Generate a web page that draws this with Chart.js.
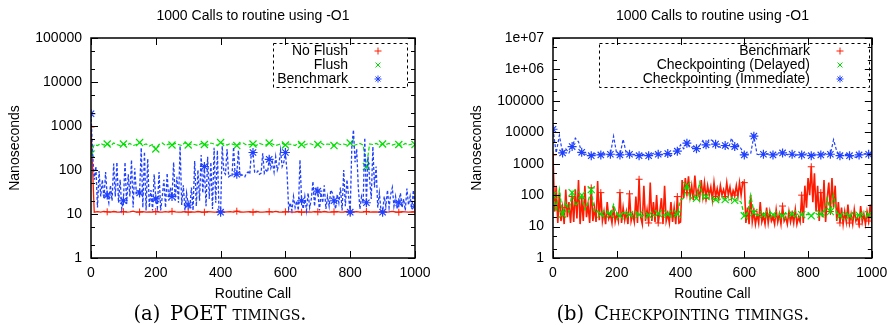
<!DOCTYPE html>
<html lang="en">
<head>
<meta charset="UTF-8" />
<title>1000 Calls to routine using -O1</title>
<script src="https://cdn.jsdelivr.net/npm/chart.js"></script>
<style>
  body { margin: 0; background: #fff; }
  #page { position: relative; width: 894px; height: 325px; overflow: hidden; background: #fff; }
  .panel { position: absolute; top: 0; width: 447px; height: 305px; }
  .caption {
    position: absolute;
    top: 302px;
    font-family: "DejaVu Serif", "Liberation Serif", serif;
    font-size: 19.5px;
    line-height: 24px;
    white-space: nowrap;
    transform: translateX(-50%);
    color: #000;
  }
  .sc { font-variant: small-caps; }
</style>
</head>
<body>
<div id="page">
  <div class="panel" style="left:0"><canvas id="poetChart" width="447" height="305"></canvas></div>
  <div class="panel" style="left:447px"><canvas id="ckptChart" width="447" height="305"></canvas></div>
  <div class="caption" style="left:220px">(a)&ensp;<span class="sc">POET timings.</span></div>
  <div class="caption" style="left:683px">(b)&ensp;<span class="sc">Checkpointing timings.</span></div>
</div>

<script>
  // routine call numbers (x values)
  const callsBy10 = Array.from({ length: 101 }, (_, i) => i * 10);
  const callsBy5 = Array.from({ length: 201 }, (_, i) => i * 5);

  const xTicks = [0, 200, 400, 600, 800, 1000];

  // ---- (a) POET timings ----
  const poetYTicks = [1, 10, 100, 1000, 10000, 100000];
  const poetYMinor = [2, 5, 20, 50, 200, 500, 2000, 5000, 20000, 50000];

  // every 10 calls
  const noFlush = [950, 11, 11.3, 11, 11.5, 11.2, 11, 11.4, 11.1, 11,
    11.3, 11, 11.2, 11.6, 11, 11.1, 11.3, 11, 11.2, 11,
    11.4, 11.1, 11, 11.3, 11, 11.5, 11.2, 11, 11.1, 11.3,
    11, 11.2, 11, 11.4, 11.1, 11, 11.3, 11.2, 11, 11.1,
    11.5, 11, 11.2, 11.3, 11, 11.6, 11.1, 11, 11.2, 11.3,
    11, 11.4, 11.1, 11, 11.2, 11.3, 11, 11.5, 11.1, 11,
    11.2, 11.3, 11, 11.1, 11.4, 11, 11.2, 11.1, 11, 11.3,
    11.2, 11, 11.4, 11.1, 11, 11.2, 11.3, 11, 11.1, 11.5,
    11, 11.2, 11.3, 11, 11.1, 11.4, 11, 11.2, 11.1, 11,
    11.3, 11, 11.2, 11.5, 11.1, 11, 11.3, 11.2, 11, 11.1,
    11.2];

  // every 10 calls
  const flush = [230, 380, 360, 400, 370, 390, 350, 410, 380, 360,
    390, 370, 400, 360, 380, 420, 370, 390, 350, 380,
    300, 380, 410, 360, 390, 370, 400, 380, 360, 420,
    370, 390, 380, 360, 400, 380, 370, 410, 390, 360,
    420, 390, 370, 400, 380, 360, 390, 410, 370, 380,
    390, 360, 400, 380, 370, 410, 390, 360, 380, 400,
    370, 390, 380, 360, 410, 380, 370, 400, 390, 360,
    380, 410, 370, 390, 380, 360, 400, 380, 390, 370,
    410, 360, 380, 400, 370, 120, 390, 380, 400, 370,
    390, 380, 400, 370, 390, 380, 360, 400, 370, 390,
    380];

  // every 5 calls
  const poetBenchmark = [1900, 240, 60, 120, 14, 95, 25, 60, 22, 90,
    27, 18, 45, 20, 140, 25, 150, 18, 60, 13,
    20, 150, 17, 80, 25, 170, 14, 110, 30, 35,
    30, 320, 14, 260, 12, 180, 14, 35, 12, 80,
    22, 14, 90, 12, 25, 60, 14, 85, 20, 40,
    25, 150, 20, 70, 18, 350, 16, 45, 12, 30,
    16, 14, 40, 12, 160, 15, 100, 20, 220, 30,
    120, 15, 200, 22, 150, 13, 320, 18, 280, 12,
    11, 350, 90, 80, 300, 70, 75, 70, 330, 75,
    80, 280, 72, 78, 75, 70, 85, 90, 80, 250,
    250, 90, 85, 95, 80, 85, 240, 85, 100, 90,
    175, 110, 150, 90, 200, 100, 130, 280, 120, 150,
    250, 90, 13, 18, 12, 25, 14, 20, 12, 170,
    20, 13, 25, 12, 30, 14, 22, 55, 15, 40,
    33, 12, 30, 18, 45, 13, 25, 15, 35, 30,
    20, 13, 28, 18, 40, 12, 100, 15, 60, 25,
    11, 350, 820, 150, 300, 40, 13, 25, 18, 540,
    18, 200, 60, 22, 340, 40, 120, 14, 30, 12,
    11, 25, 15, 35, 14, 28, 40, 15, 25, 13,
    18, 30, 14, 22, 12, 38, 16, 25, 13, 35,
    15];

  // ---- (b) Checkpointing timings ----
  const ckptYTicks = [1, 10, 100, 1000, 10000, 100000, 1000000, 10000000];
  const ckptYLabels = ['1', '10', '100', '1000', '10000', '100000', '1e+06', '1e+07'];
  const ckptYMinor = [2, 5, 20, 50, 200, 500, 2000, 5000, 20000, 50000,
    200000, 500000, 2000000, 5000000];

  // every 5 calls
  const ckptBenchmark = [1900, 30, 200, 13, 120, 15, 40, 12, 150, 20,
    60, 13, 90, 14, 150, 18, 300, 12, 80, 15,
    200, 20, 50, 13, 170, 15, 40, 14, 280, 16,
    120, 15, 30, 12, 60, 18, 25, 13, 45, 14,
    25, 15, 120, 13, 40, 16, 30, 12, 110, 15,
    25, 14, 90, 13, 320, 20, 12, 200, 15, 35,
    13, 250, 15, 60, 14, 100, 13, 30, 80, 12,
    200, 15, 25, 13, 60, 14, 40, 12, 90, 13,
    14, 300, 80, 350, 120, 400, 90, 200, 70, 420,
    100, 150, 80, 300, 90, 250, 80, 200, 100, 180,
    70, 250, 90, 160, 80, 200, 100, 150, 90, 250,
    100, 180, 80, 140, 100, 200, 90, 250, 100, 260,
    250, 13, 40, 12, 100, 14, 30, 12, 25, 13,
    60, 14, 22, 12, 40, 13, 30, 15, 20, 12,
    35, 14, 25, 12, 45, 15, 20, 12, 30, 14,
    25, 13, 35, 12, 20, 14, 100, 13, 200, 40,
    350, 100, 800, 60, 500, 30, 200, 15, 120, 20,
    300, 14, 80, 250, 30, 350, 40, 200, 15, 60,
    13, 40, 12, 30, 14, 50, 13, 25, 12, 35,
    15, 20, 12, 45, 14, 25, 12, 30, 15, 50,
    13];

  // every 10 calls
  const ckptDelayed = [100, 30, 150, 25, 60, 30, 120, 45, 60, 100,
    35, 60, 150, 28, 30, 25, 22, 28, 25, 50,
    24, 22, 30, 25, 24, 22, 26, 24, 22, 25,
    23, 24, 22, 26, 24, 23, 25, 22, 24, 25,
    70, 80, 200, 75, 90, 80, 250, 85, 90, 80,
    75, 72, 70, 80, 72, 70, 75, 68, 70, 60,
    22, 25, 100, 28, 23, 25, 24, 22, 26, 24,
    23, 25, 22, 26, 24, 25, 22, 26, 24, 23,
    25, 22, 28, 24, 25, 23, 80, 30, 100, 25,
    22, 24, 25, 22, 26, 24, 23, 25, 22, 24,
    23];

  // every 10 calls
  const ckptImmediate = [12500, 2200, 8000, 2200, 3000, 2200, 3500, 6500, 5000, 2300,
    2000, 2000, 1800, 2100, 2000, 1900, 2100, 1900, 2000, 7500,
    2000, 1900, 6000, 2100, 2000, 1900, 2000, 1800, 2000, 1900,
    1800, 2000, 2300, 2000, 1900, 2000, 2100, 1800, 2000, 2500,
    4000, 3000, 4500, 3200, 3500, 3000, 3800, 5500, 4000, 6000,
    5500, 4200, 3500, 3200, 3800, 3000, 6500, 3500, 4000, 3000,
    1900, 2000, 2100, 7500, 2000, 1900, 2000, 2100, 2000, 1900,
    2000, 2100, 2200, 2000, 1900, 2000, 1800, 2000, 1900, 2000,
    2100, 1800, 2000, 2000, 1900, 2000, 2200, 2000, 5800, 2500,
    1800, 1900, 2000, 1800, 1700, 1600, 1900, 2000, 2100, 2000,
    2100];

  const RED = '#ff1a00';
  const GREEN = '#00e000';
  const BLUE = '#2040ff';
  const FONT = { family: 'Liberation Sans, Arial, sans-serif', size: 14, weight: 'normal' };

  Chart.defaults.font.family = FONT.family;
  Chart.defaults.font.size = 14;
  Chart.defaults.color = '#000';

  function points(xs, ys) {
    return ys.map((v, i) => ({ x: xs[i], y: v }));
  }

  function drawMark(ctx, style, x, y, r) {
    ctx.beginPath();
    if (style === 'cross' || style === 'star') {
      ctx.moveTo(x - r, y); ctx.lineTo(x + r, y);
      ctx.moveTo(x, y - r); ctx.lineTo(x, y + r);
    }
    if (style === 'crossRot' || style === 'star') {
      const d = r * 0.7071;
      ctx.moveTo(x - d, y - d); ctx.lineTo(x + d, y + d);
      ctx.moveTo(x - d, y + d); ctx.lineTo(x + d, y - d);
    }
    ctx.stroke();
  }

  // gnuplot-like frame: inward ticks on all four sides + dashed key box
  const gnuplotFrame = {
    id: 'gnuplotFrame',
    afterDraw(chart, args, opts) {
      const ctx = chart.ctx;
      const a = chart.chartArea;
      const xs = chart.scales.x, ys = chart.scales.y;
      ctx.save();
      ctx.strokeStyle = '#000';
      ctx.lineWidth = 1;
      ctx.beginPath();
      xTicks.forEach(v => {
        const px = Math.round(xs.getPixelForValue(v)) + 0.5;
        ctx.moveTo(px, a.bottom); ctx.lineTo(px, a.bottom - 7);
        ctx.moveTo(px, a.top); ctx.lineTo(px, a.top + 7);
      });
      opts.yMajor.forEach(v => {
        const py = Math.round(ys.getPixelForValue(v)) + 0.5;
        ctx.moveTo(a.left, py); ctx.lineTo(a.left + 7, py);
        ctx.moveTo(a.right, py); ctx.lineTo(a.right - 7, py);
      });
      opts.yMinor.forEach(v => {
        const py = Math.round(ys.getPixelForValue(v)) + 0.5;
        ctx.moveTo(a.left, py); ctx.lineTo(a.left + 4, py);
        ctx.moveTo(a.right, py); ctx.lineTo(a.right - 4, py);
      });
      ctx.stroke();
      ctx.lineWidth = 1.5;
      ctx.strokeRect(a.left, a.top, a.right - a.left, a.bottom - a.top);

      // key
      const k = opts.key;
      ctx.lineWidth = 1;
      ctx.setLineDash([3, 3]);
      ctx.strokeRect(k.x + 0.5, k.y + 0.5, k.w, k.h);
      ctx.setLineDash([]);
      ctx.font = '14px ' + FONT.family;
      ctx.textAlign = 'right';
      ctx.textBaseline = 'middle';
      chart.data.datasets.forEach((ds, i) => {
        const y = k.y + 8 + i * 14;
        ctx.fillStyle = '#000';
        ctx.fillText(ds.label, k.textRight, y);
        ctx.strokeStyle = ds.borderColor;
        drawMark(ctx, ds.pointStyle, k.markX, y, 3.5);
      });
      ctx.restore();
    }
  };

  function makeChart(id, cfg) {
    return new Chart(document.getElementById(id), {
      type: 'line',
      data: { datasets: cfg.datasets },
      plugins: [gnuplotFrame],
      options: {
        responsive: false,
        animation: false,
        events: [],
        layout: { padding: { left: 0, right: cfg.padRight, top: 0, bottom: 0 } },
        elements: { line: { tension: 0 } },
        plugins: {
          legend: { display: false },
          tooltip: { enabled: false },
          title: {
            display: true,
            fullSize: false,
            text: '1000 Calls to routine using -O1',
            color: '#000',
            font: FONT,
            padding: { top: 7.6, bottom: 13.6 }
          },
          gnuplotFrame: { yMajor: cfg.yTicks, yMinor: cfg.yMinor, key: cfg.key }
        },
        scales: {
          x: {
            type: 'linear',
            min: 0,
            max: 1000,
            grid: { display: false, drawTicks: false },
            border: { display: false },
            afterBuildTicks: s => { s.ticks = xTicks.map(v => ({ value: v })); },
            ticks: { padding: 6.6, maxRotation: 0, color: '#000', font: FONT, callback: v => String(v) },
            title: { display: true, text: 'Routine Call', color: '#000', font: FONT, padding: { top: 0, bottom: 2.6 } },
            afterFit: s => { s.height = 47; }
          },
          y: {
            type: 'logarithmic',
            min: 1,
            max: cfg.yTicks[cfg.yTicks.length - 1],
            grid: { display: false, drawTicks: false },
            border: { display: false },
            afterBuildTicks: s => { s.ticks = cfg.yTicks.map(v => ({ value: v })); },
            ticks: {
              padding: 9,
              color: '#000',
              font: FONT,
              autoSkip: false,
              callback: (v, i) => cfg.yLabels[i]
            },
            title: { display: true, text: 'Nanoseconds', color: '#000', font: FONT, padding: { top: cfg.yTitlePad, bottom: 0 } },
            afterFit: s => { s.width = cfg.yWidth; }
          }
        }
      }
    });
  }

  function every(n, r) {
    return ctx => (ctx.dataIndex % n === 0 ? r : 0);
  }

  makeChart('poetChart', {
    padRight: 32,
    yWidth: 91,
    yTitlePad: 6.6,
    yTicks: poetYTicks,
    yLabels: poetYTicks.map(String),
    yMinor: poetYMinor,
    key: { x: 273, y: 43, w: 134, h: 44, textRight: 348, markX: 378 },
    datasets: [
      { label: 'No Flush', data: points(callsBy10, noFlush), borderColor: RED, backgroundColor: RED,
        borderWidth: 1.3, pointStyle: 'cross', pointRadius: every(5, 3.5), pointBorderWidth: 1, order: 3 },
      { label: 'Flush', data: points(callsBy10, flush), borderColor: GREEN, backgroundColor: GREEN,
        borderWidth: 1.2, borderDash: [4, 2], pointStyle: 'crossRot', pointRadius: every(5, 5), pointBorderWidth: 1.2, order: 2 },
      { label: 'Benchmark', data: points(callsBy5, poetBenchmark), borderColor: BLUE, backgroundColor: BLUE,
        borderWidth: 1.3, borderDash: [3, 2], pointStyle: 'star', pointRadius: every(10, 4.5), pointBorderWidth: 1.2, order: 1 }
    ]
  });

  makeChart('ckptChart', {
    padRight: 17,
    yWidth: 106,
    yTitlePad: 21.6,
    yTicks: ckptYTicks,
    yLabels: ckptYLabels,
    yMinor: ckptYMinor,
    key: { x: 152, y: 43, w: 270, h: 44, textRight: 363, markX: 393 },
    datasets: [
      { label: 'Benchmark', data: points(callsBy5, ckptBenchmark), borderColor: RED, backgroundColor: RED,
        borderWidth: 1.6, pointStyle: 'cross', pointRadius: every(6, 3.5), pointBorderWidth: 1, order: 3 },
      { label: 'Checkpointing (Delayed)', data: points(callsBy10, ckptDelayed), borderColor: GREEN, backgroundColor: GREEN,
        borderWidth: 1.3, borderDash: [4, 2], pointStyle: 'crossRot', pointRadius: every(3, 5), pointBorderWidth: 1.2, order: 2 },
      { label: 'Checkpointing (Immediate)', data: points(callsBy10, ckptImmediate), borderColor: BLUE, backgroundColor: BLUE,
        borderWidth: 1.2, borderDash: [3, 2], pointStyle: 'star', pointRadius: every(3, 4.5), pointBorderWidth: 1.2, order: 1 }
    ]
  });
</script>
</body>
</html>
